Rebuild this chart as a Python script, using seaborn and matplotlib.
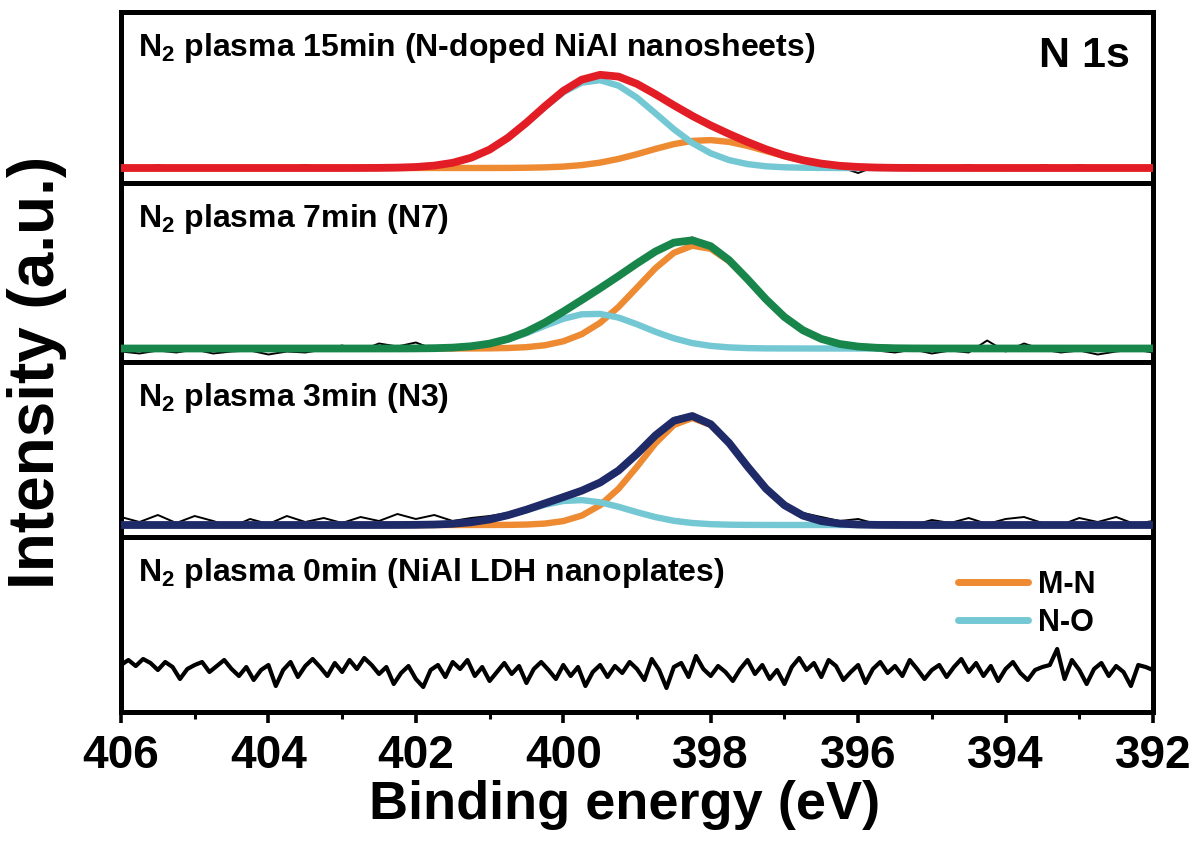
import numpy as np
import matplotlib
matplotlib.use("Agg")
import matplotlib.pyplot as plt
import seaborn as sns
from matplotlib.lines import Line2D
from matplotlib.ticker import MultipleLocator

# ---- data (intensity in arbitrary units) ----
energy_raw = np.round(np.arange(406.0, 391.99, -0.25), 2)          # 57 points
energy_fit = np.round(np.r_[406.0, np.arange(403.0, 394.99, -0.25), 392.0], 2)  # 35 points
energy_ref = np.round(np.arange(406.0, 391.95, -0.1), 2)            # 141 points

# 15 min (N-doped NiAl nanosheets)
raw_15 = [1, 0, 3, 0, -1, 1, 0, 2, -1, 1, 3, 0,
          1, 2, 0, 3, 2, 4, 7, 10, 19, 30, 46, 61, 78, 89, 95, 91, 85, 74, 65, 55,
          44, 33, 28, 18, 15, 8, 5, 1, -5, 2, 0, 3, 0,
          1, 3, 0, 2, -1, 3, 1, 3, 0, 2, 1, 0]
mn_15 = [0, 0, 0, 0, 0.01, 0.01, 0.01, 0.01, 0.01, 0.03, 0.09, 0.26, 0.64, 1.4, 2.9, 5.4, 9.1,
         13.8, 19.1, 23.9, 27.1, 27.9, 26.1, 22.1, 17.0, 11.8, 7.5, 4.3, 2.2, 1.05,
         0.45, 0.17, 0.06, 0.02, 0]
no_15 = [0, 0.01, 0.04, 0.14, 0.39, 1.0, 2.4, 5.2, 10.3, 18.4, 30.2, 45.0, 61.1, 75.7, 85.4,
         87.8, 82.3, 70.3, 54.7, 38.8, 25.0, 14.7, 7.9, 3.9, 1.7, 0.7, 0.3, 0.1, 0, 0,
         0, 0, 0, 0, 0]
env_15 = [0, 0.01, 0.04, 0.14, 0.4, 1.0, 2.4, 5.2, 10.3, 18.4, 30.3, 45.3, 61.7, 77.1, 88.3,
          93.2, 91.4, 84.1, 73.8, 62.7, 52.1, 42.6, 34.0, 26.0, 18.7, 12.5, 7.8, 4.4, 2.2,
          1.05, 0.45, 0.17, 0.06, 0.02, 0]

# 7 min (N7)
raw_7 = [-3, -5, -2, -4, -1, -5, -3, -2, -6, -3, -4, -1,
         3, -2, 5, 2, 6, -1, 2, 1, 5, 10, 18, 26, 38, 49, 61, 75, 86, 97, 106, 111,
         103, 88, 70, 49, 31, 21, 11, 6, 2, -2, -4, -1, -5,
         -2, -4, 8, -3, 5, -1, -4, -2, -6, -3, -1, -4]
mn_7 = [0, 0, 0, 0, 0, 0, 0, 0.01, 0.05, 0.16, 0.49, 1.33, 3.25, 7.2, 14.3, 25.7, 41.6,
        60.9, 80.3, 95.7, 102.8, 99.7, 87.2, 68.9, 49.1, 31.5, 18.3, 9.6, 4.5, 1.9,
        0.74, 0.26, 0.08, 0.02, 0]
no_7 = [0, 0, 0, 0.01, 0.03, 0.1, 0.31, 0.88, 2.2, 4.7, 9.1, 15.3, 22.7, 29.7, 34.2, 34.6,
        30.9, 24.2, 16.7, 10.2, 5.4, 2.6, 1.1, 0.39, 0.12, 0.04, 0.01, 0, 0, 0,
        0, 0, 0, 0, 0]
env_7 = [0, 0, 0, 0.01, 0.03, 0.1, 0.31, 0.89, 2.25, 4.86, 9.59, 16.63, 25.95, 36.9, 48.5,
         60.3, 72.5, 85.1, 97.0, 105.9, 108.2, 102.3, 88.3, 69.3, 49.2, 31.5, 18.3, 9.6,
         4.5, 1.9, 0.74, 0.26, 0.08, 0.02, 0]

# 3 min (N3)
raw_3 = [8, 3, 10, 2, 9, 4, -2, 6, 1, 9, 3, 7,
         2, 8, 4, 11, 6, 10, 4, 7, 9, 12, 17, 22, 29, 35, 43, 56, 72, 91, 107, 111,
         101, 80, 57, 37, 21, 12, 8, 4, 6, 1, 3, 0, 5,
         2, 7, 1, 6, 8, 2, 0, 7, 3, 8, 1, 4]
mn_3 = [0, 0, 0, 0, 0, 0, 0, 0, 0.01, 0.03, 0.12, 0.45, 1.42, 3.9, 9.4, 19.8, 36.3, 58.3,
        81.7, 100.0, 107.0, 100.0, 81.7, 58.3, 36.3, 19.8, 9.4, 3.9, 1.42, 0.45, 0.12,
        0.03, 0, 0, 0]
no_3 = [0, 0, 0, 0.01, 0.05, 0.15, 0.46, 1.2, 2.75, 5.5, 9.7, 14.9, 20.2, 24.0, 24.9, 22.7,
        18.2, 12.8, 7.9, 4.2, 2.0, 0.83, 0.3, 0.1, 0.03, 0.01, 0, 0, 0, 0,
        0, 0, 0, 0, 0]
env_3 = [0, 0, 0, 0.01, 0.05, 0.15, 0.46, 1.2, 2.76, 5.53, 9.82, 15.35, 21.62, 27.9, 34.3,
         42.5, 54.5, 71.1, 89.6, 104.2, 109.0, 100.8, 82.0, 58.4, 36.3, 19.8, 9.4, 3.9,
         1.42, 0.45, 0.12, 0.03, 0, 0, 0]

# 0 min (NiAl LDH nanoplates), raw spectrum only
raw_0 = [8, 13, 7, 14, 10, 3, 11, 6, -6, 4, 8,
         11, 1, 7, 13, 4, -3, 6, -7, 3, 8,
         -13, 3, 11, -4, 7, 14, 6, -3, 10, 1,
         13, 4, 15, 8, -1, 6, -11, 0, 7, -6,
         -14, 3, 8, -4, 11, 4, 13, -3, 6, -8,
         1, 10, -1, 7, -10, 4, 11, 3, -6, 8,
         -3, 6, -13, 1, 8, -4, 7, 0, 11, 4,
         -7, 14, 3, -15, 6, 10, -4, 17, 4, -3,
         7, 1, -8, 4, 13, -1, 8, -6, 3, -11,
         6, 15, 3, 10, -4, 13, 7, -7, 1, 8,
         -10, 4, 11, 0, 7, -3, 13, 4, -6, 3,
         8, -4, 6, 14, 1, 10, -3, 7, -8, 4,
         11, 0, -7, 3, 6, 8, 24, -6, 13, 3,
         -11, 4, 10, -3, 7, 1, -13, 8, 6, 3]

labels = [r"N$_\mathbf{2}$ plasma 15min (N-doped NiAl nanosheets)",
          r"N$_\mathbf{2}$ plasma 7min (N7)",
          r"N$_\mathbf{2}$ plasma 3min (N3)",
          r"N$_\mathbf{2}$ plasma 0min (NiAl LDH nanoplates)"]

c_mn = "#EE8A32"
c_no = "#74C8D4"
c_env = ["#E31D25", "#18854A", "#1F2A68"]

# ---- style ----
sns.set_theme(style="white")
plt.rcParams["font.family"] = ["Liberation Sans", "DejaVu Sans"]
plt.rcParams["font.weight"] = "bold"
plt.rcParams["text.color"] = "black"
plt.rcParams["xtick.color"] = "black"
plt.rcParams["axes.labelcolor"] = "black"
plt.rcParams["mathtext.fontset"] = "custom"
plt.rcParams["mathtext.bf"] = "Liberation Sans:bold"
plt.rcParams["mathtext.rm"] = "Liberation Sans:bold"

W, H = 1203, 841
fig = plt.figure(figsize=(W / 100, H / 100), dpi=100)

# panel boundaries in pixels (top, bottom) and baseline offsets
bounds = [(12, 183), (183, 362), (362, 537), (537, 712)]
base = [168, 348.5, 525, 673]
x0, x1 = 121, 1153

axes = []
for (t, b), y0 in zip(bounds, base):
    ax = fig.add_axes([x0 / W, 1 - b / H, (x1 - x0) / W, (b - t) / H])
    ax.set_xlim(406, 392)
    ax.set_ylim(-(b - y0), y0 - t)
    ax.set_yticks([])
    for s in ax.spines.values():
        s.set_linewidth(3.6)
        s.set_color("black")
    axes.append(ax)

line_kw = dict(sort=False, estimator=None, solid_joinstyle="round", solid_capstyle="round")
fits = [(raw_15, mn_15, no_15, env_15), (raw_7, mn_7, no_7, env_7), (raw_3, mn_3, no_3, env_3)]
for ax, (raw, mn, no, env), col in zip(axes[:3], fits, c_env):
    sns.lineplot(x=energy_raw, y=raw, ax=ax, color="black", lw=1.4, zorder=1, **line_kw)
    sns.lineplot(x=energy_fit, y=mn, ax=ax, color=c_mn, lw=4.6, zorder=2, **line_kw)
    sns.lineplot(x=energy_fit, y=no, ax=ax, color=c_no, lw=4.6, zorder=3, **line_kw)
    sns.lineplot(x=energy_fit, y=env, ax=ax, color=col, lw=5.6, zorder=4, **line_kw)

sns.lineplot(x=energy_ref, y=raw_0, ax=axes[3], color="black", lw=3.0, **line_kw)

for ax, lab, (t, b) in zip(axes, labels, bounds):
    ax.text(17 / (x1 - x0), 1 - 36 / (b - t), lab, transform=ax.transAxes,
            ha="left", va="center", fontsize=23, fontweight="bold")
    ax.tick_params(axis="x", bottom=False, labelbottom=False)

axes[0].text((1130 - x0) / (x1 - x0), 1 - 44 / 171, "N 1s", transform=axes[0].transAxes,
             ha="right", va="center", fontsize=31, fontweight="bold")

# bottom axis ticks
axb = axes[3]
axb.xaxis.set_major_locator(MultipleLocator(2))
axb.xaxis.set_minor_locator(MultipleLocator(1))
axb.tick_params(axis="x", which="both", bottom=True, labelbottom=True, direction="out",
                colors="black")
axb.tick_params(axis="x", which="major", length=8, width=2.6, labelsize=33, pad=8)
axb.tick_params(axis="x", which="minor", length=5, width=2.2)
for lbl in axb.get_xticklabels():
    lbl.set_fontweight("bold")

handles = [Line2D([], [], color=c_mn, lw=5, label="M-N"),
           Line2D([], [], color=c_no, lw=5, label="N-O")]
axb.legend(handles=handles, loc="upper right", frameon=False,
           bbox_to_anchor=((1095 - x0) / (x1 - x0), 1 - 33 / 175),
           borderaxespad=0, borderpad=0, handlelength=2.3, handletextpad=0.3,
           labelspacing=0.25, prop={"size": 22, "weight": "bold"})

fig.text(37 / W, 1 - 372 / H, "Intensity (a.u.)", rotation=90, ha="center", va="center",
         fontsize=46, fontweight="bold")
fig.text(625 / W, 1 - 805 / H, "Binding energy (eV)", ha="center", va="center",
         fontsize=39, fontweight="bold")

fig.savefig("out.png", dpi=100)
